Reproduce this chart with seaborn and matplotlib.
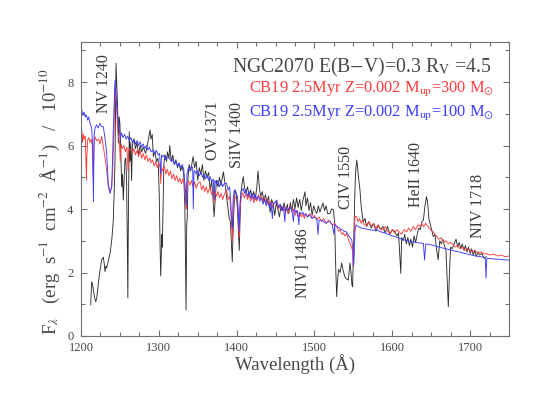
import numpy as np
import pandas as pd
import matplotlib
matplotlib.use("Agg")
import matplotlib.pyplot as plt
import seaborn as sns
from matplotlib.ticker import MultipleLocator

# ---------------- data ----------------
obs_wave = [1212.5, 1213.7, 1215.0, 1216.0, 1217.5, 1219.0, 1220.5, 1222.0, 1224.0, 1226.6,
            1228.7, 1230.0, 1230.8, 1232.0, 1233.0, 1235.0, 1237.3, 1239.4, 1240.5, 1241.5,
            1242.5, 1243.7, 1244.4, 1245.0, 1245.6, 1246.7, 1247.5, 1248.0, 1249.0, 1250.0,
            1251.0, 1252.3, 1253.2, 1254.4, 1255.5, 1256.5, 1257.5, 1258.5, 1259.5, 1260.2,
            1260.8, 1262.0, 1263.0, 1264.0, 1265.0, 1266.0, 1268.0, 1270.0, 1272.0, 1274.0,
            1276.0, 1278.0, 1280.0, 1283.0, 1286.0, 1288.7, 1290.0, 1291.5, 1293.0, 1295.0,
            1297.0, 1299.0, 1300.5, 1301.5, 1302.4, 1303.2, 1304.0, 1304.5, 1305.3, 1306.5,
            1308.0, 1310.0, 1311.0, 1313.0, 1314.0, 1316.0, 1318.0, 1320.0, 1322.0, 1324.0,
            1326.0, 1328.0, 1330.0, 1332.0, 1333.5, 1334.5, 1335.0, 1335.8, 1336.5, 1337.5,
            1339.0, 1341.0, 1344.0, 1346.0, 1348.0, 1350.0, 1352.0, 1354.0, 1356.0, 1358.0,
            1360.0, 1362.0, 1364.0, 1366.0, 1368.0, 1370.0, 1371.0, 1372.5, 1374.0, 1376.0,
            1378.0, 1380.0, 1383.0, 1385.0, 1387.0, 1389.0, 1390.5, 1392.0, 1393.5, 1394.4,
            1395.2, 1396.5, 1398.0, 1399.5, 1401.0, 1402.5, 1403.4, 1404.3, 1405.5, 1407.0,
            1408.6, 1410.0, 1412.0, 1414.0, 1416.0, 1418.0, 1420.0, 1422.0, 1424.0, 1426.0,
            1427.5, 1429.5, 1431.0, 1433.0, 1435.0, 1437.0, 1439.0, 1441.0, 1443.0, 1445.0,
            1447.0, 1449.0, 1451.0, 1453.0, 1455.0, 1457.0, 1459.0, 1461.0, 1463.0, 1465.0,
            1467.0, 1469.0, 1471.0, 1473.0, 1475.0, 1477.0, 1479.0, 1481.0, 1483.0, 1485.0,
            1487.8, 1489.0, 1491.0, 1493.0, 1495.0, 1497.0, 1499.0, 1501.0, 1503.0, 1505.0,
            1507.0, 1509.0, 1511.0, 1513.0, 1515.0, 1517.0, 1520.0, 1522.0, 1524.5, 1526.0,
            1527.5, 1528.6, 1529.5, 1531.0, 1533.0, 1535.0, 1537.0, 1539.0, 1541.0, 1543.5,
            1545.7, 1547.0, 1548.2, 1549.0, 1550.0, 1551.0, 1552.0, 1553.0, 1554.3, 1555.5,
            1556.5, 1558.5, 1560.0, 1561.5, 1562.8, 1565.0, 1567.0, 1570.0, 1573.0, 1576.0,
            1579.0, 1582.0, 1585.0, 1588.0, 1591.0, 1594.0, 1597.0, 1600.0, 1603.0, 1606.0,
            1608.0, 1609.5, 1611.0, 1612.0, 1614.0, 1616.0, 1618.0, 1620.0, 1622.0, 1624.0,
            1626.0, 1628.0, 1630.0, 1632.0, 1634.0, 1636.0, 1638.0, 1640.0, 1642.0, 1644.0,
            1645.5, 1647.0, 1648.5, 1650.0, 1652.7, 1655.0, 1657.0, 1659.0, 1661.0, 1663.0,
            1665.0, 1667.0, 1669.0, 1670.5, 1672.0, 1673.5, 1675.0, 1677.0, 1680.6, 1682.0,
            1684.0, 1686.0, 1688.0, 1690.0, 1692.0, 1694.0, 1696.0, 1698.0, 1700.0, 1702.0,
            1704.0, 1706.0, 1708.0, 1710.0, 1712.0, 1715.0, 1718.0, 1721.0]
obs_flux = [0.98, 1.71, 1.60, 1.45, 1.20, 1.08, 1.25, 1.60, 2.00, 2.40,
            2.48, 2.25, 2.03, 2.20, 2.14, 2.35, 2.60, 3.00, 3.30, 3.65,
            4.40, 5.54, 7.20, 8.59, 8.20, 7.43, 6.80, 6.08, 6.90, 6.70,
            5.90, 4.70, 5.10, 4.28, 5.00, 5.54, 5.60, 5.00, 3.00, 1.20,
            3.50, 6.43, 5.50, 6.10, 4.90, 6.00, 6.20, 5.90, 6.10, 5.70,
            6.00, 5.80, 5.95, 5.75, 6.10, 6.49, 6.20, 6.35, 5.65, 5.80,
            5.50, 5.60, 4.50, 3.00, 1.89, 2.60, 3.20, 2.80, 3.80, 5.40,
            5.70, 5.50, 5.80, 5.60, 6.00, 5.50, 5.70, 5.40, 5.55, 5.30,
            5.45, 5.20, 5.35, 5.10, 4.00, 2.00, 0.82, 3.50, 3.70, 5.00,
            5.40, 5.20, 5.65, 5.30, 5.50, 4.90, 5.30, 5.10, 5.40, 4.90,
            5.20, 5.00, 5.15, 4.60, 4.90, 4.20, 3.76, 4.30, 4.90, 4.70,
            5.00, 4.75, 5.17, 4.80, 4.40, 4.00, 3.70, 3.60, 2.80, 2.34,
            3.10, 4.00, 4.60, 4.50, 4.00, 3.20, 2.70, 3.60, 4.50, 4.80,
            5.02, 4.70, 4.50, 4.70, 4.40, 4.60, 4.35, 4.55, 4.30, 4.70,
            5.20, 4.60, 4.40, 4.55, 4.25, 4.45, 4.20, 4.40, 3.90, 4.30,
            4.15, 3.80, 4.20, 4.00, 3.75, 4.10, 3.95, 4.20, 3.90, 4.15,
            3.85, 4.20, 3.95, 4.30, 4.00, 4.35, 4.05, 4.30, 3.95, 4.25,
            4.54, 4.10, 4.35, 3.95, 4.20, 3.80, 4.10, 3.95, 3.86, 4.10,
            3.90, 4.05, 4.19, 3.95, 4.10, 3.85, 3.86, 4.00, 3.97, 3.50,
            2.00, 1.24, 1.70, 2.10, 2.00, 2.30, 2.05, 1.87, 1.80, 1.76,
            2.30, 2.00, 1.60, 1.55, 2.50, 3.50, 4.60, 5.20, 5.54, 5.30,
            5.00, 4.60, 4.10, 3.80, 3.60, 3.70, 3.45, 3.60, 3.40, 3.55,
            3.30, 3.50, 3.35, 3.45, 3.25, 3.45, 3.20, 3.35, 3.30, 3.15,
            3.25, 2.60, 1.97, 3.10, 3.00, 3.20, 2.90, 3.10, 2.85, 3.05,
            2.80, 3.15, 2.95, 3.20, 3.40, 3.35, 3.60, 3.65, 4.10, 4.39,
            4.20, 3.70, 3.56, 3.40, 3.13, 3.20, 2.70, 2.40, 3.00, 2.90,
            3.05, 2.85, 2.70, 1.80, 0.92, 2.00, 2.80, 2.75, 2.97, 3.05,
            2.80, 2.95, 2.75, 2.90, 2.70, 2.85, 2.65, 2.80, 2.60, 2.75,
            2.55, 2.70, 2.50, 2.65, 2.55, 2.60, 2.45, 2.50]

red_wave = [1200.0, 1201.0, 1202.0, 1203.0, 1204.0, 1205.5, 1206.5, 1207.0, 1207.5, 1208.5,
            1210.0, 1211.5, 1213.0, 1214.5, 1215.7, 1216.8, 1218.0, 1220.0, 1222.5, 1224.5,
            1226.6, 1228.7, 1231.0, 1233.0, 1235.0, 1237.3, 1239.4, 1240.6, 1242.4, 1243.7,
            1245.0, 1246.7, 1248.0, 1249.2, 1250.5, 1251.5, 1253.0, 1255.0, 1257.0, 1259.0,
            1260.5, 1261.5, 1264.0, 1266.0, 1268.0, 1270.0, 1272.0, 1274.0, 1275.8, 1278.0,
            1280.0, 1282.0, 1284.0, 1286.0, 1288.7, 1290.0, 1292.0, 1294.0, 1296.0, 1298.0,
            1300.0, 1301.5, 1302.5, 1303.5, 1305.0, 1307.0, 1309.0, 1311.0, 1313.0, 1315.0,
            1317.0, 1319.0, 1321.0, 1323.0, 1325.0, 1327.0, 1329.0, 1331.0, 1333.0, 1334.5,
            1335.3, 1336.2, 1338.0, 1340.0, 1342.0, 1344.0, 1346.0, 1348.0, 1350.0, 1353.0,
            1355.0, 1357.0, 1359.0, 1361.0, 1363.0, 1365.8, 1368.0, 1370.0, 1371.0, 1372.0,
            1374.0, 1376.0, 1378.0, 1380.0, 1382.0, 1384.0, 1387.0, 1389.0, 1391.0, 1392.5,
            1393.7, 1394.5, 1395.5, 1397.0, 1399.0, 1401.0, 1402.5, 1403.3, 1404.3, 1406.0,
            1408.0, 1410.0, 1412.0, 1414.0, 1416.0, 1418.0, 1420.0, 1422.0, 1424.0, 1426.0,
            1428.0, 1430.0, 1432.0, 1434.0, 1436.0, 1438.0, 1440.0, 1442.0, 1444.0, 1446.0,
            1448.0, 1451.5, 1454.0, 1456.0, 1458.0, 1460.0, 1462.0, 1464.0, 1466.0, 1468.6,
            1471.0, 1473.0, 1475.0, 1477.0, 1479.0, 1481.0, 1483.0, 1485.0, 1487.0, 1489.0,
            1491.0, 1494.0, 1497.0, 1500.0, 1503.0, 1506.0, 1509.0, 1512.0, 1515.0, 1518.0,
            1520.0, 1523.0, 1526.0, 1528.6, 1531.0, 1533.0, 1535.0, 1537.0, 1539.0, 1541.4,
            1543.5, 1545.7, 1547.5, 1549.0, 1549.7, 1550.5, 1551.3, 1552.0, 1554.3, 1556.0,
            1558.0, 1560.0, 1562.0, 1564.0, 1567.0, 1570.0, 1573.0, 1576.0, 1579.0, 1582.0,
            1585.0, 1588.5, 1591.0, 1594.0, 1597.0, 1600.0, 1603.0, 1606.0, 1609.0, 1612.0,
            1615.0, 1618.5, 1621.0, 1624.0, 1627.0, 1630.0, 1633.0, 1636.0, 1638.0, 1640.0,
            1643.0, 1646.0, 1649.0, 1652.0, 1655.0, 1657.0, 1660.0, 1663.0, 1666.0, 1669.0,
            1672.0, 1675.0, 1678.4, 1681.0, 1684.0, 1687.0, 1690.0, 1693.0, 1696.0, 1700.0,
            1703.0, 1706.0, 1710.0, 1714.0, 1718.0, 1721.0, 1725.0, 1730.0, 1735.0, 1740.0,
            1745.0, 1750.0]
red_flux = [6.40, 6.49, 6.10, 6.35, 6.20, 6.30, 5.40, 4.90, 5.60, 6.17,
            6.25, 6.10, 6.20, 6.00, 5.00, 6.00, 6.28, 6.15, 6.20, 6.05,
            6.28, 5.96, 5.60, 5.23, 4.70, 4.50, 4.70, 5.13, 6.49, 7.85,
            7.54, 6.70, 6.30, 6.17, 5.50, 6.05, 5.90, 6.00, 5.80, 5.95,
            5.20, 5.90, 5.85, 5.75, 5.90, 5.70, 5.85, 5.65, 5.86, 5.60,
            5.75, 5.55, 5.70, 5.50, 5.60, 5.45, 5.55, 5.35, 5.50, 5.30,
            5.45, 5.33, 4.80, 5.30, 5.20, 5.35, 5.10, 5.25, 5.05, 5.20,
            4.95, 5.10, 4.90, 5.05, 4.85, 4.97, 4.80, 4.95, 4.75, 4.20,
            4.00, 4.80, 4.90, 4.75, 4.90, 4.70, 4.85, 4.65, 4.80, 4.86,
            4.60, 4.75, 4.55, 4.70, 4.50, 4.70, 4.45, 4.60, 4.20, 4.55,
            4.40, 4.55, 4.35, 4.50, 4.30, 4.45, 4.60, 4.30, 4.40, 3.90,
            3.40, 3.00, 4.00, 4.40, 4.35, 4.25, 3.60, 3.10, 4.00, 4.40,
            4.50, 4.35, 4.50, 4.30, 4.45, 4.25, 4.40, 4.20, 4.35, 4.25,
            4.45, 4.30, 4.40, 4.20, 4.35, 4.15, 4.30, 4.10, 4.25, 4.05,
            4.20, 4.23, 4.00, 4.15, 3.95, 4.10, 3.90, 4.05, 3.85, 4.13,
            3.90, 4.00, 3.80, 3.95, 3.75, 3.90, 3.75, 3.85, 3.70, 3.85,
            3.75, 3.86, 3.70, 3.80, 3.65, 3.75, 3.60, 3.70, 3.55, 3.65,
            3.60, 3.50, 3.55, 3.44, 3.30, 3.35, 3.20, 3.25, 3.15, 3.23,
            3.05, 2.92, 2.80, 2.70, 2.20, 2.60, 3.30, 3.76, 3.76, 3.60,
            3.70, 3.55, 3.65, 3.50, 3.50, 3.60, 3.45, 3.55, 3.40, 3.50,
            3.35, 3.34, 3.45, 3.30, 3.23, 3.35, 3.25, 3.35, 3.28, 3.20,
            3.35, 3.28, 3.40, 3.30, 3.45, 3.35, 3.50, 3.45, 3.55, 3.44,
            3.55, 3.45, 3.35, 3.30, 3.20, 3.13, 3.05, 3.10, 2.95, 3.00,
            2.90, 2.95, 2.87, 2.80, 2.85, 2.75, 2.80, 2.70, 2.75, 2.70,
            2.65, 2.70, 2.62, 2.65, 2.58, 2.60, 2.55, 2.58, 2.52, 2.55,
            2.50, 2.52]

blue_wave = [1200.0, 1201.0, 1202.5, 1204.0, 1205.5, 1207.0, 1208.5, 1210.0, 1211.5, 1213.0,
             1213.7, 1215.0, 1216.0, 1216.8, 1218.0, 1220.0, 1222.0, 1224.4, 1226.5, 1228.7,
             1231.0, 1233.0, 1235.0, 1237.3, 1239.4, 1240.5, 1241.5, 1243.7, 1245.8, 1247.5,
             1249.2, 1250.5, 1252.0, 1254.0, 1256.0, 1258.0, 1260.0, 1262.0, 1264.0, 1266.0,
             1268.0, 1270.0, 1272.0, 1274.0, 1275.8, 1278.0, 1280.0, 1282.0, 1284.0, 1286.0,
             1288.0, 1290.0, 1293.0, 1295.0, 1297.0, 1299.0, 1301.0, 1302.5, 1303.5, 1305.0,
             1307.0, 1309.0, 1311.0, 1314.0, 1316.0, 1318.0, 1320.0, 1322.0, 1324.0, 1326.0,
             1328.0, 1330.0, 1332.0, 1334.5, 1335.3, 1336.2, 1338.0, 1340.0, 1342.0, 1343.5,
             1344.3, 1345.2, 1346.5, 1348.0, 1350.0, 1352.0, 1354.0, 1356.0, 1358.0, 1360.0,
             1362.0, 1364.0, 1365.8, 1368.0, 1370.0, 1371.0, 1372.0, 1374.0, 1376.0, 1378.0,
             1380.0, 1382.0, 1384.0, 1387.0, 1389.0, 1391.0, 1392.5, 1393.7, 1394.5, 1395.5,
             1397.0, 1399.0, 1401.0, 1402.5, 1403.3, 1404.3, 1406.0, 1408.6, 1410.0, 1412.0,
             1414.0, 1416.0, 1418.0, 1420.0, 1422.0, 1424.0, 1426.0, 1428.0, 1430.0, 1432.0,
             1434.0, 1436.0, 1438.0, 1440.0, 1442.0, 1444.0, 1446.0, 1447.0, 1449.0, 1451.5,
             1454.0, 1456.0, 1458.0, 1460.0, 1462.0, 1463.0, 1465.0, 1468.6, 1471.0, 1473.0,
             1474.0, 1476.0, 1478.0, 1480.0, 1481.0, 1483.0, 1485.0, 1487.0, 1489.0, 1491.0,
             1494.0, 1497.0, 1500.0, 1503.0, 1504.5, 1506.0, 1509.0, 1512.0, 1515.0, 1518.0,
             1520.0, 1523.0, 1525.0, 1526.0, 1529.0, 1532.0, 1535.0, 1538.0, 1541.0, 1544.0,
             1548.0, 1549.5, 1550.3, 1551.0, 1552.0, 1553.4, 1556.0, 1560.0, 1565.0, 1570.0,
             1575.0, 1580.0, 1585.0, 1590.0, 1595.0, 1600.0, 1605.0, 1610.0, 1615.0, 1620.0,
             1625.0, 1630.0, 1635.0, 1640.0, 1641.5, 1643.0, 1650.0, 1655.0, 1660.0, 1665.0,
             1670.0, 1675.0, 1680.0, 1685.0, 1690.0, 1695.0, 1700.0, 1705.0, 1710.0, 1715.0,
             1719.5, 1720.5, 1721.5, 1725.0, 1730.0, 1735.0, 1740.0, 1745.0, 1750.0]
blue_flux = [7.05, 7.12, 6.95, 7.05, 6.90, 6.96, 6.80, 6.90, 6.70, 6.60,
             6.54, 6.00, 4.23, 6.30, 6.55, 6.65, 6.55, 6.70, 6.60, 6.59,
             6.20, 5.75, 4.80, 4.50, 4.70, 5.50, 6.49, 8.06, 7.33, 6.80,
             6.49, 6.20, 6.40, 6.25, 6.35, 6.20, 6.30, 6.15, 6.25, 6.10,
             6.20, 6.05, 6.15, 6.00, 6.12, 5.95, 6.05, 5.90, 6.00, 5.85,
             5.95, 5.80, 5.86, 5.75, 5.85, 5.70, 5.75, 5.10, 5.70, 5.65,
             5.70, 5.55, 5.65, 5.60, 5.50, 5.55, 5.40, 5.50, 5.35, 5.45,
             5.30, 5.40, 5.25, 4.50, 4.10, 5.10, 5.30, 5.20, 5.35, 5.30,
             4.00, 5.20, 5.20, 5.10, 5.20, 5.05, 5.15, 5.00, 5.10, 4.95,
             5.05, 4.90, 5.02, 4.85, 4.95, 4.30, 4.90, 4.80, 4.90, 4.70,
             4.85, 4.70, 4.80, 4.81, 4.60, 4.70, 4.20, 3.60, 3.40, 4.30,
             4.60, 4.50, 4.40, 3.70, 3.30, 4.20, 4.55, 4.65, 4.50, 4.60,
             4.40, 4.55, 4.35, 4.50, 4.30, 4.45, 4.30, 4.40, 4.25, 4.35,
             4.15, 4.30, 4.10, 4.25, 4.05, 4.20, 3.70, 4.15, 4.20, 4.28,
             4.05, 4.15, 3.95, 4.10, 3.60, 4.05, 3.95, 4.07, 3.95, 3.60,
             4.00, 3.90, 3.95, 3.50, 3.90, 3.85, 3.90, 3.80, 3.85, 3.75,
             3.81, 3.70, 3.75, 3.70, 3.20, 3.65, 3.65, 3.60, 3.55, 3.60,
             3.60, 3.50, 3.20, 3.50, 3.45, 3.40, 3.35, 3.30, 3.28, 3.15,
             3.02, 2.70, 2.20, 2.50, 3.30, 3.50, 3.45, 3.40, 3.38, 3.35,
             3.33, 3.34, 3.28, 3.25, 3.20, 3.15, 3.12, 3.07, 3.03, 3.00,
             2.97, 2.95, 2.93, 2.92, 2.39, 2.90, 2.87, 2.84, 2.80, 2.77,
             2.74, 2.71, 2.68, 2.65, 2.62, 2.59, 2.56, 2.53, 2.51, 2.49,
             2.46, 1.82, 2.45, 2.44, 2.43, 2.42, 2.41, 2.40, 2.39]

line_labels = ["NV 1240", "OV 1371", "SiIV 1400", "NIV] 1486", "CIV 1550", "HeII 1640", "NIV 1718"]
line_label_wave = [1229.6, 1370.0, 1400.0, 1485.4, 1540.0, 1630.5, 1709.7]
line_label_base = [7.02, 5.54, 5.29, 1.20, 4.00, 4.05, 3.08]

title_text = r"NGC2070 E(B$-$V)=0.3 R$_{\rm V}$ =4.5"
red_label = r"CB19 2.5Myr Z=0.002 M$_{\rm up}$=300 M$_{\odot}$"
blue_label = r"CB19 2.5Myr Z=0.002 M$_{\rm up}$=100 M$_{\odot}$"

# ---------------- style ----------------
sns.set_theme(style="ticks")
plt.rcParams["font.family"] = ["Liberation Serif", "DejaVu Serif"]
plt.rcParams["mathtext.fontset"] = "stix"

GREY = "#707070"
TXT = "#474747"
RED = "#ff3c3c"
BLUE = "#3c3cff"

fig = plt.figure(figsize=(5.38, 4.16), dpi=100)
ax = fig.add_axes([81 / 538, 1 - 336 / 416, (509 - 81) / 538, (336 - 42) / 416])

obs = pd.DataFrame({"wave": obs_wave, "flux": obs_flux})
red = pd.DataFrame({"wave": red_wave, "flux": red_flux})
blue = pd.DataFrame({"wave": blue_wave, "flux": blue_flux})

sns.lineplot(data=obs, x="wave", y="flux", ax=ax, color="#2e2e2e", lw=0.65,
             estimator=None, sort=False)
sns.lineplot(data=red, x="wave", y="flux", ax=ax, color=RED, lw=0.65,
             estimator=None, sort=False)
sns.lineplot(data=blue, x="wave", y="flux", ax=ax, color=BLUE, lw=0.65,
             estimator=None, sort=False)

ax.set_xlim(1200, 1750)
ax.set_ylim(0, 9.26)
ax.set_xlabel("")
ax.set_ylabel("")
ax.xaxis.set_major_locator(MultipleLocator(100))
ax.xaxis.set_minor_locator(MultipleLocator(25))
ax.yaxis.set_major_locator(MultipleLocator(2))
ax.yaxis.set_minor_locator(MultipleLocator(1))
ax.tick_params(which="both", direction="in", top=True, right=True,
               color=GREY, width=0.8, labelsize=9, labelcolor=TXT)
ax.tick_params(which="major", length=4.5)
ax.tick_params(which="minor", length=3)
ax.tick_params(axis="x", which="major", pad=4.5)
ax.tick_params(axis="y", which="major", pad=5.5)
for s in ax.spines.values():
    s.set_color(GREY)
    s.set_linewidth(0.8)

for lab, w, b in zip(line_labels, line_label_wave, line_label_base):
    ax.text(w, b, lab, rotation=90, ha="center", va="bottom", fontsize=11.5,
            color="#3a3a3a")

ax.text(1394, 8.31, title_text, fontsize=14.2, color=TXT, ha="left", va="baseline")
ax.text(1416, 7.65, red_label, fontsize=11.8, color=RED, ha="left", va="baseline")
ax.text(1416, 6.90, blue_label, fontsize=11.8, color=BLUE, ha="left", va="baseline")

ax.text(0.499, -0.117, "Wavelength (Å)", transform=ax.transAxes, fontsize=13.5,
        color=TXT, ha="center", va="baseline")
ax.text(-0.072, 0.455,
        r"F$_{\lambda}$   (erg  s$^{-1}$  cm$^{-2}$  Å$^{-1}$)   /   10$^{-10}$",
        transform=ax.transAxes, rotation=90, fontsize=13.5, color=TXT,
        ha="center", va="center")

fig.savefig("out.png", dpi=100)
